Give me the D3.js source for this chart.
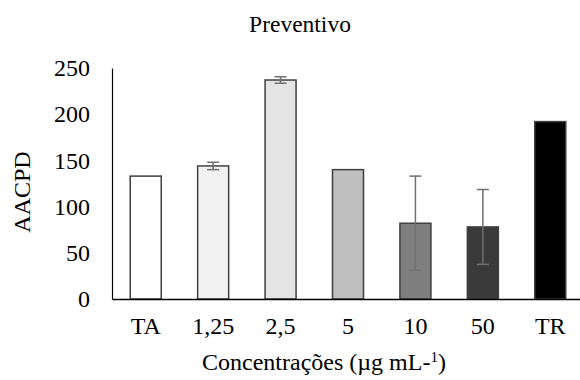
<!DOCTYPE html>
<html>
<head>
<meta charset="utf-8">
<script src="https://cdn.jsdelivr.net/npm/d3@7"></script>
<style>
  body { margin: 0; background: #fff; }
  svg text { font-family: "Liberation Serif", "Times New Roman", serif; fill: #000; }
</style>
</head>
<body>
<div id="chart"></div>
<script>
"use strict";

// values
var categories = ["TA", "1,25", "2,5", "5", "10", "50", "TR"];
var means = [133, 144, 237, 140, 82, 78, 192];
var errors = [0, 4, 3.5, 0, 51, 40.5, 0];
var fills = ["#ffffff", "#f2f2f2", "#e4e4e4", "#bfbfbf", "#7f7f7f", "#3a3a3a", "#000000"];
var yTicks = [0, 50, 100, 150, 200, 250];

var width = 580, height = 380;
var margin = { top: 68, right: -4, bottom: 81, left: 112 };

var svg = d3.select("#chart")
  .append("svg")
  .attr("width", width)
  .attr("height", height);

var x = d3.scaleBand()
  .domain(categories)
  .range([margin.left, width - margin.right])
  .paddingInner(0.54)
  .paddingOuter(0.27);

var y = d3.scaleLinear()
  .domain([0, 250])
  .range([height - margin.bottom, margin.top]);

// bars
svg.selectAll("rect.bar")
  .data(categories)
  .enter().append("rect")
  .attr("class", "bar")
  .attr("x", function (d) { return x(d); })
  .attr("y", function (d, i) { return y(means[i]); })
  .attr("width", x.bandwidth())
  .attr("height", function (d, i) { return y(0) - y(means[i]); })
  .style("fill", function (d, i) { return fills[i]; })
  .style("stroke", "#404040")
  .style("stroke-width", 1.5);

// error bars
var err = svg.selectAll("g.err")
  .data(categories.filter(function (d, i) { return errors[i] > 0; }))
  .enter().append("g")
  .attr("class", "err")
  .style("stroke", "#707070")
  .style("stroke-width", 1.5);

function idx(d) { return categories.indexOf(d); }
var cap = 6;

err.append("line")
  .attr("x1", function (d) { return x(d) + x.bandwidth() / 2; })
  .attr("x2", function (d) { return x(d) + x.bandwidth() / 2; })
  .attr("y1", function (d) { return y(means[idx(d)] - errors[idx(d)]); })
  .attr("y2", function (d) { return y(means[idx(d)] + errors[idx(d)]); });

err.append("line")
  .attr("x1", function (d) { return x(d) + x.bandwidth() / 2 - cap; })
  .attr("x2", function (d) { return x(d) + x.bandwidth() / 2 + cap; })
  .attr("y1", function (d) { return y(means[idx(d)] + errors[idx(d)]); })
  .attr("y2", function (d) { return y(means[idx(d)] + errors[idx(d)]); });

err.append("line")
  .attr("x1", function (d) { return x(d) + x.bandwidth() / 2 - cap; })
  .attr("x2", function (d) { return x(d) + x.bandwidth() / 2 + cap; })
  .attr("y1", function (d) { return y(means[idx(d)] - errors[idx(d)]); })
  .attr("y2", function (d) { return y(means[idx(d)] - errors[idx(d)]); });

// y axis
var yAxis = svg.append("g")
  .attr("transform", "translate(" + margin.left + ",0)")
  .call(d3.axisLeft(y).tickValues(yTicks).tickSize(0).tickPadding(22));
yAxis.attr("font-family", null);
yAxis.select(".domain").attr("stroke", "#000").attr("stroke-width", 1.2);
yAxis.selectAll("text").style("font-size", "24px");

// x axis
var xAxis = svg.append("g")
  .attr("transform", "translate(0," + y(0) + ")")
  .call(d3.axisBottom(x).tickSize(0).tickPadding(18));
xAxis.attr("font-family", null);
xAxis.select(".domain").attr("stroke", "#000").attr("stroke-width", 1.5);
xAxis.selectAll("text").style("font-size", "24px");

// titles
svg.append("text")
  .attr("x", 300)
  .attr("y", 32)
  .attr("text-anchor", "middle")
  .style("font-size", "23.5px")
  .text("Preventivo");

svg.append("text")
  .attr("transform", "translate(30,192) rotate(-90)")
  .attr("text-anchor", "middle")
  .style("font-size", "24px")
  .text("AACPD");

var xt = svg.append("text")
  .attr("x", 324)
  .attr("y", 370)
  .attr("text-anchor", "middle")
  .style("font-size", "24px");
xt.append("tspan").text("Concentrações (µg mL-");
xt.append("tspan").attr("dy", -8).style("font-size", "15px").text("1");
xt.append("tspan").attr("dy", 8).text(")");
</script>
</body>
</html>
